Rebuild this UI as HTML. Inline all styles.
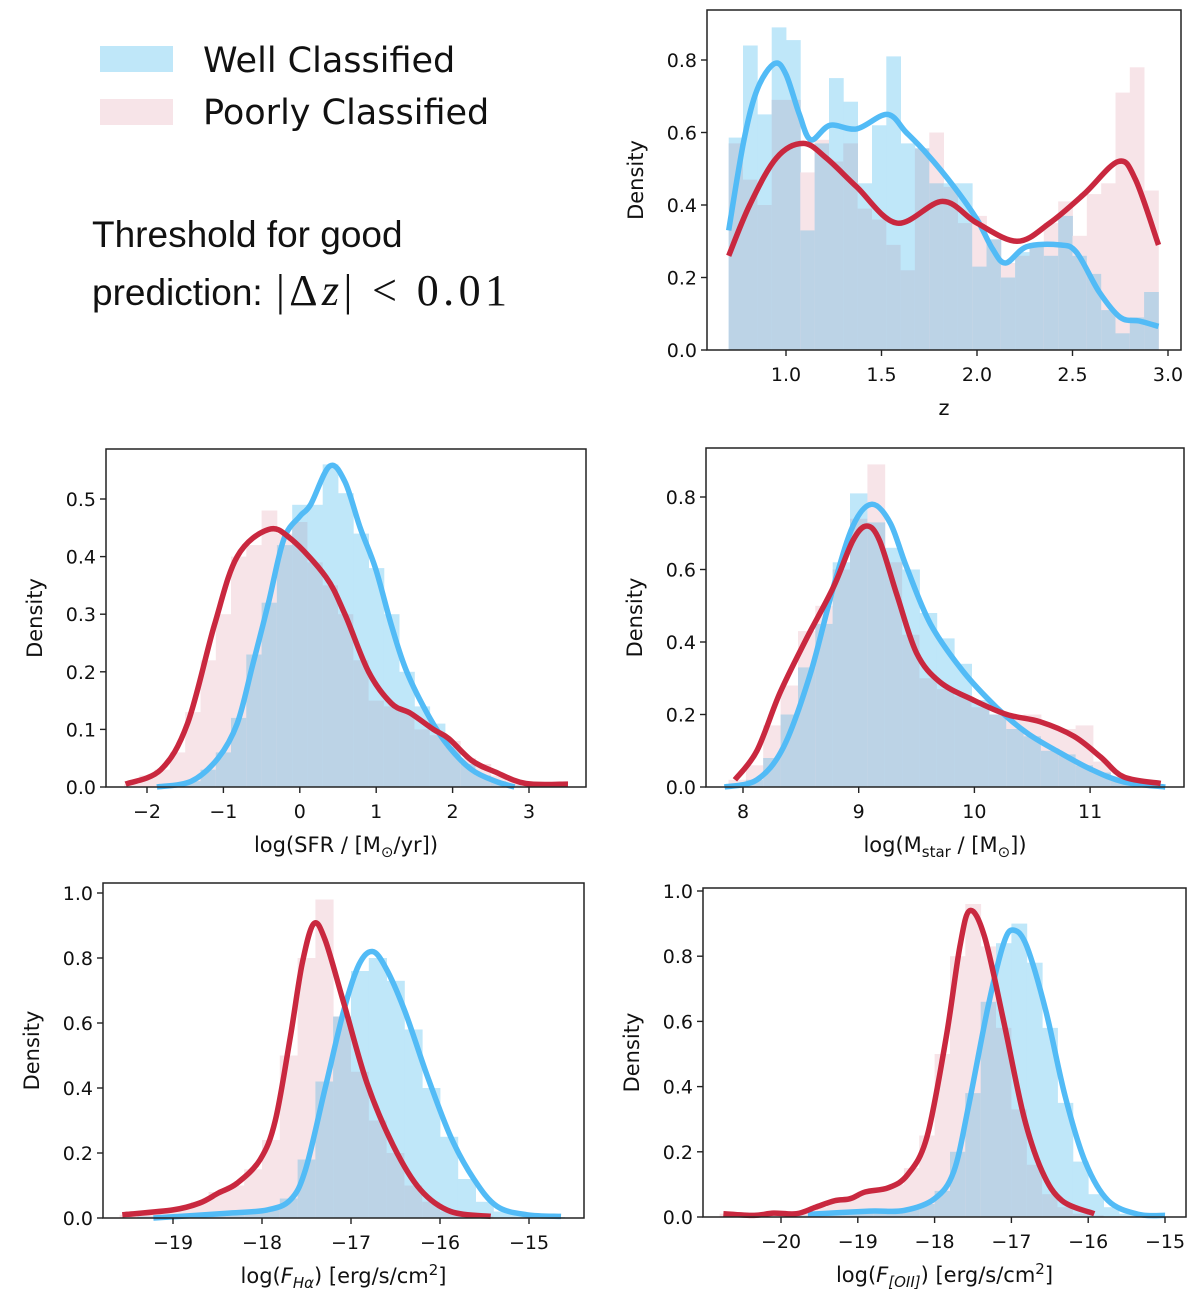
<!DOCTYPE html>
<html><head><meta charset="utf-8"><style>
html,body{margin:0;padding:0;background:#fff;}
svg{display:block;font-family:"DejaVu Sans","Liberation Sans",sans-serif;}
</style></head><body>
<svg id="fig" width="1200" height="1306" viewBox="0 0 1200 1306" xmlns="http://www.w3.org/2000/svg">
<g>
<rect x="100" y="46" width="73" height="26" fill="#bfe7f9"/>
<text x="203" y="72" font-size="35" fill="#111">Well Classified</text>
<rect x="100" y="99" width="73" height="26" fill="#f7e4e8"/>
<text x="203" y="124" font-size="35" fill="#111">Poorly Classified</text>
</g>
<g font-family="Liberation Sans, sans-serif" fill="#111">
<text x="92" y="247" font-size="37">Threshold for good</text>
<text x="92" y="305" font-size="37">prediction:</text>
<text x="276" y="305" font-family="Liberation Serif, serif" font-size="44" textLength="231" lengthAdjust="spacing">|Δ<tspan font-style="italic">z</tspan>|  &lt;  0.01</text>
</g>
<g id="panels"></g>
</svg>
<script>
// ---- z panel data ----
const zBinStart = 0.70, zBinWidth = 0.075;
const zBlueBins = [0.586,0.84,0.65,0.89,0.855,0.33,0.57,0.75,0.685,0.46,0.62,0.81,0.57,0.556,0.46,0.46,0.46,0.23,0.305,0.2,0.27,0.285,0.26,0.37,0.26,0.21,0.11,0.046,0.09,0.16];
const zRedBins  = [0.57,0.47,0.40,0.69,0.69,0.49,0.58,0.52,0.57,0.39,0.36,0.29,0.22,0.556,0.6,0.45,0.35,0.37,0.305,0.24,0.26,0.285,0.35,0.41,0.315,0.43,0.46,0.71,0.78,0.44];
const zBlueKdeX = [0.70,0.78,0.85,0.94,1.0,1.07,1.13,1.23,1.37,1.53,1.63,1.74,1.88,2.0,2.08,2.15,2.26,2.43,2.52,2.64,2.75,2.85,2.95];
const zBlueKdeY = [0.33,0.58,0.72,0.79,0.76,0.65,0.58,0.62,0.61,0.65,0.6,0.54,0.45,0.36,0.28,0.24,0.285,0.29,0.27,0.16,0.09,0.08,0.065];
const zRedKdeX = [0.70,0.81,0.95,1.09,1.21,1.37,1.58,1.82,2.0,2.21,2.38,2.56,2.74,2.83,2.95];
const zRedKdeY = [0.26,0.40,0.53,0.57,0.53,0.45,0.35,0.41,0.35,0.30,0.35,0.43,0.52,0.47,0.29];
const zXTicks = [1.0,1.5,2.0,2.5,3.0];
const zXTickLabels = ["1.0","1.5","2.0","2.5","3.0"];
const zYTicks = [0,0.2,0.4,0.6,0.8];
const zYTickLabels = ["0.0","0.2","0.4","0.6","0.8"];

// ---- SFR panel data ----
const sfrBinStart = -2.3, sfrBinWidth = 0.2;
const sfrRedBins  = [0.005,0.02,0.03,0.06,0.13,0.22,0.3,0.4,0.42,0.48,0.44,0.46,0.39,0.35,0.3,0.22,0.15,0.14,0.13,0.1,0.09,0.08,0.05,0.04,0.02,0.01,0.005,0.003,0.003];
const sfrBlueBins = [0,0,0,0.005,0.01,0.03,0.06,0.12,0.23,0.32,0.42,0.49,0.49,0.56,0.51,0.44,0.38,0.3,0.2,0.14,0.11,0.07,0.04,0.02,0.01,0.003,0,0,0];
const sfrBlueKdeX = [-1.87,-1.42,-1.07,-0.82,-0.62,-0.41,-0.21,0,0.14,0.39,0.59,0.79,0.99,1.2,1.4,1.7,1.95,2.25,2.56,2.81];
const sfrBlueKdeY = [0,0.01,0.05,0.11,0.21,0.32,0.43,0.47,0.49,0.557,0.53,0.45,0.38,0.28,0.2,0.12,0.07,0.03,0.01,0];
const sfrRedKdeX = [-2.28,-1.82,-1.47,-1.12,-0.82,-0.41,-0.11,0.34,0.59,0.9,1.2,1.45,1.75,1.95,2.25,2.56,2.96,3.51];
const sfrRedKdeY = [0.005,0.03,0.11,0.28,0.4,0.447,0.43,0.365,0.3,0.2,0.145,0.128,0.1,0.084,0.046,0.026,0.006,0.005];
const sfrXTicks = [-2,-1,0,1,2,3];
const sfrXTickLabels = ["\u22122","\u22121","0","1","2","3"];
const sfrYTicks = [0,0.1,0.2,0.3,0.4,0.5];
const sfrYTickLabels = ["0.0","0.1","0.2","0.3","0.4","0.5"];

// ---- Mstar panel data ----
const mBinStart = 7.875, mBinWidth = 0.15;
const mRedBins  = [0.02,0.06,0.17,0.28,0.43,0.5,0.6,0.74,0.89,0.62,0.42,0.3,0.27,0.25,0.22,0.2,0.19,0.2,0.17,0.16,0.17,0.07,0.03,0.01,0.005];
const mBlueBins = [0.005,0.02,0.08,0.2,0.33,0.45,0.62,0.81,0.73,0.66,0.6,0.48,0.41,0.34,0.24,0.2,0.16,0.14,0.1,0.09,0.06,0.04,0.02,0.01,0.005];
const mBlueKdeX = [7.84,8.12,8.35,8.58,8.78,8.95,9.11,9.27,9.41,9.62,9.9,10.19,10.45,10.71,11.0,11.29,11.65];
const mBlueKdeY = [0,0.02,0.11,0.31,0.55,0.72,0.78,0.73,0.61,0.45,0.32,0.22,0.15,0.1,0.05,0.014,0];
const mRedKdeX = [7.93,8.12,8.32,8.55,8.78,8.95,9.07,9.18,9.33,9.5,9.7,9.99,10.28,10.57,10.86,11.09,11.29,11.61];
const mRedKdeY = [0.02,0.1,0.26,0.41,0.55,0.68,0.72,0.68,0.53,0.37,0.29,0.24,0.2,0.18,0.14,0.083,0.028,0.01];
const mXTicks = [8,9,10,11];
const mXTickLabels = ["8","9","10","11"];
const mYTicks = [0,0.2,0.4,0.6,0.8];
const mYTickLabels = ["0.0","0.2","0.4","0.6","0.8"];

// ---- Halpha panel data ----
const haBinStart = -19.6, haBinWidth = 0.2;
const haRedBins  = [0.01,0.02,0.025,0.03,0.05,0.08,0.1,0.15,0.24,0.5,0.8,0.98,0.62,0.45,0.3,0.2,0.1,0.05,0.02,0.01,0.005,0,0,0,0];
const haBlueBins = [0,0.005,0.005,0.01,0.01,0.015,0.02,0.025,0.03,0.06,0.18,0.42,0.62,0.76,0.8,0.73,0.58,0.4,0.25,0.12,0.05,0.02,0.01,0.005,0.003];
const haBlueKdeX = [-19.22,-18.37,-17.94,-17.68,-17.51,-17.29,-17.08,-16.91,-16.76,-16.61,-16.4,-16.14,-15.88,-15.62,-15.36,-15.02,-14.64];
const haBlueKdeY = [0,0.015,0.025,0.056,0.15,0.4,0.64,0.78,0.82,0.77,0.64,0.435,0.25,0.12,0.036,0.01,0.005];
const haRedKdeX = [-19.57,-19.0,-18.7,-18.49,-18.28,-18.02,-17.85,-17.68,-17.55,-17.42,-17.29,-17.08,-16.82,-16.52,-16.22,-15.88,-15.43];
const haRedKdeY = [0.01,0.025,0.046,0.077,0.107,0.18,0.3,0.56,0.78,0.905,0.855,0.66,0.415,0.22,0.087,0.02,0.005];
const haXTicks = [-19,-18,-17,-16,-15];
const haXTickLabels = ["\u221219","\u221218","\u221217","\u221216","\u221215"];
const haYTicks = [0,0.2,0.4,0.6,0.8,1.0];
const haYTickLabels = ["0.0","0.2","0.4","0.6","0.8","1.0"];

// ---- OII panel data ----
const oBinStart = -20.8, oBinWidth = 0.2;
const oRedBins  = [0.01,0.005,0.005,0.012,0.01,0.015,0.03,0.05,0.055,0.075,0.09,0.1,0.15,0.25,0.5,0.8,0.96,0.83,0.58,0.33,0.16,0.07,0.03,0.01,0.005,0,0,0,0];
const oBlueBins = [0,0,0,0,0,0.005,0.008,0.01,0.012,0.015,0.018,0.02,0.025,0.04,0.08,0.2,0.38,0.66,0.84,0.9,0.78,0.58,0.35,0.17,0.07,0.03,0.01,0.005,0.003];
const oBlueKdeX = [-19.65,-18.85,-18.4,-18.0,-17.75,-17.55,-17.3,-17.1,-16.97,-16.8,-16.55,-16.3,-16.04,-15.74,-15.34,-15.0];
const oBlueKdeY = [0.008,0.018,0.02,0.056,0.14,0.35,0.65,0.84,0.88,0.83,0.63,0.37,0.17,0.05,0.008,0.005];
const oRedKdeX = [-20.75,-20.35,-20.1,-19.8,-19.55,-19.3,-19.1,-18.9,-18.6,-18.35,-18.1,-17.85,-17.67,-17.54,-17.35,-17.1,-16.84,-16.6,-16.34,-15.92];
const oRedKdeY = [0.01,0.005,0.012,0.01,0.03,0.05,0.056,0.077,0.09,0.13,0.245,0.55,0.83,0.94,0.86,0.6,0.31,0.14,0.05,0.01];
const oXTicks = [-20,-19,-18,-17,-16,-15];
const oXTickLabels = ["\u221220","\u221219","\u221218","\u221217","\u221216","\u221215"];
const oYTicks = [0,0.2,0.4,0.6,0.8,1.0];
const oYTickLabels = ["0.0","0.2","0.4","0.6","0.8","1.0"];

const NS = "http://www.w3.org/2000/svg";
const root = document.getElementById("panels");
function mk(tag, attrs, parent){
  const e = document.createElementNS(NS, tag);
  for (const k in attrs) e.setAttribute(k, attrs[k]);
  parent.appendChild(e);
  return e;
}
function smoothPath(pts){
  let d = "M" + pts[0][0].toFixed(1) + "," + pts[0][1].toFixed(1);
  for (let i = 0; i < pts.length - 1; i++){
    const p0 = pts[Math.max(i-1,0)], p1 = pts[i], p2 = pts[i+1], p3 = pts[Math.min(i+2, pts.length-1)];
    const c1x = p1[0] + (p2[0]-p0[0])/6, c1y = p1[1] + (p2[1]-p0[1])/6;
    const c2x = p2[0] - (p3[0]-p1[0])/6, c2y = p2[1] - (p3[1]-p1[1])/6;
    d += " C" + c1x.toFixed(1)+","+c1y.toFixed(1)+" "+c2x.toFixed(1)+","+c2y.toFixed(1)+" "+p2[0].toFixed(1)+","+p2[1].toFixed(1);
  }
  return d;
}
function drawPanel(cfg){
  const g = mk("g", {}, root);
  
  
  const X = v => cfg.x0 + (v - cfg.xv0) * cfg.xs;
  const Y = v => cfg.yb - v * cfg.ys;
  const bars = mk("g", {}, g);
  
  
  for (let i = 0; i < cfg.blue.length; i++){
    const a = X(cfg.binStart + i*cfg.binW), b = X(cfg.binStart + (i+1)*cfg.binW);
    const bv = cfg.blue[i], rv = cfg.red[i];
    const hi = Math.max(bv, rv), lo = Math.min(bv, rv);
    if (hi > 0){
      const r1 = mk("rect", {x:a.toFixed(1), y:Y(hi).toFixed(1), width:(b-a+0.4).toFixed(1), height:(Y(0)-Y(hi)).toFixed(1), fill: bv >= rv ? "#bfe7f9" : "#f7e4e8"}, bars);
      
      
    }
    if (lo > 0){
      const r2 = mk("rect", {x:a.toFixed(1), y:Y(lo).toFixed(1), width:(b-a+0.4).toFixed(1), height:(Y(0)-Y(lo)).toFixed(1), fill:"#bcd3e6"}, bars);
      
      
    }
  }
  const bp = mk("path", {d: smoothPath(cfg.bkx.map((v,i)=>[X(v), Y(cfg.bky[i])])), fill:"none", stroke:"#52bbf6", "stroke-width":5.5, "stroke-linejoin":"round"}, g);
  
  
  const rp = mk("path", {d: smoothPath(cfg.rkx.map((v,i)=>[X(v), Y(cfg.rky[i])])), fill:"none", stroke:"#c9283f", "stroke-width":5.5, "stroke-linejoin":"round"}, g);
  
  
  const fr = mk("rect", {x:cfg.L, y:cfg.T, width:cfg.R-cfg.L, height:cfg.yb-cfg.T, fill:"none", stroke:"#222", "stroke-width":1.5}, g);
  
  
  cfg.xt.forEach((v,i)=>{
    const x = X(v);
    mk("line", {x1:x, x2:x, y1:cfg.yb, y2:cfg.yb+6, stroke:"#222", "stroke-width":1.4}, g);
    const t = mk("text", {x:x, y:cfg.yb+31, "font-size":19, "text-anchor":"middle", fill:"#111"}, g);
    
    
    t.textContent = cfg.xtl[i];
  });
  cfg.yt.forEach((v,i)=>{
    const y = Y(v);
    mk("line", {x1:cfg.L-6, x2:cfg.L, y1:y, y2:y, stroke:"#222", "stroke-width":1.4}, g);
    const t = mk("text", {x:cfg.L-10, y:y+7, "font-size":19, "text-anchor":"end", fill:"#111"}, g);
    
    
    t.textContent = cfg.ytl[i];
  });
  const cy = (cfg.T + cfg.yb)/2, lx = cfg.L - 64;
  const yl = mk("text", {x:lx, y:cy, "font-size":21, "text-anchor":"middle", fill:"#111", transform:"rotate(-90 "+lx+" "+cy+")"}, g);
  
  
  yl.textContent = "Density";
  const xl = mk("text", {x:(cfg.L+cfg.R)/2, y:cfg.yb+65, "font-size":21, "text-anchor":"middle", fill:"#111"}, g);
  
  
  xl.innerHTML = cfg.xlabel;
}
drawPanel({name:"panel-redshift", L:707,R:1181,T:10,yb:350, x0:786,xv0:1.0,xs:191, ys:362.5,
  binStart:zBinStart,binW:zBinWidth, blue:zBlueBins, red:zRedBins, bkx:zBlueKdeX,bky:zBlueKdeY, rkx:zRedKdeX,rky:zRedKdeY,
  xt:zXTicks,xtl:zXTickLabels, yt:zYTicks,ytl:zYTickLabels, xlabel:"z"});
drawPanel({name:"panel-sfr", L:106,R:586,T:449,yb:787, x0:147,xv0:-2,xs:76.4, ys:576,
  binStart:sfrBinStart,binW:sfrBinWidth, blue:sfrBlueBins, red:sfrRedBins, bkx:sfrBlueKdeX,bky:sfrBlueKdeY, rkx:sfrRedKdeX,rky:sfrRedKdeY,
  xt:sfrXTicks,xtl:sfrXTickLabels, yt:sfrYTicks,ytl:sfrYTickLabels, xlabel:'log(SFR / [M<tspan font-size="15" dy="5">\u2299</tspan><tspan dy="-5">/yr])</tspan>'});
drawPanel({name:"panel-stellar-mass", L:706,R:1184,T:448,yb:787, x0:743,xv0:8,xs:115.7, ys:362.5,
  binStart:mBinStart,binW:mBinWidth, blue:mBlueBins, red:mRedBins, bkx:mBlueKdeX,bky:mBlueKdeY, rkx:mRedKdeX,rky:mRedKdeY,
  xt:mXTicks,xtl:mXTickLabels, yt:mYTicks,ytl:mYTickLabels, xlabel:'log(M<tspan font-size="15" dy="5">star</tspan><tspan dy="-5"> / [M</tspan><tspan font-size="15" dy="5">\u2299</tspan><tspan dy="-5">])</tspan>'});
drawPanel({name:"panel-halpha-flux", L:103,R:584,T:883,yb:1218, x0:440,xv0:-16,xs:89, ys:325,
  binStart:haBinStart,binW:haBinWidth, blue:haBlueBins, red:haRedBins, bkx:haBlueKdeX,bky:haBlueKdeY, rkx:haRedKdeX,rky:haRedKdeY,
  xt:haXTicks,xtl:haXTickLabels, yt:haYTicks,ytl:haYTickLabels, xlabel:'log(<tspan font-style="italic">F</tspan><tspan font-size="15" dy="5" font-style="italic">H\u03b1</tspan><tspan dy="-5">) [erg/s/cm</tspan><tspan font-size="15" dy="-8">2</tspan><tspan dy="8">]</tspan>'});
drawPanel({name:"panel-oii-flux", L:703,R:1186,T:888,yb:1217, x0:781,xv0:-20,xs:76.8, ys:326,
  binStart:oBinStart,binW:oBinWidth, blue:oBlueBins, red:oRedBins, bkx:oBlueKdeX,bky:oBlueKdeY, rkx:oRedKdeX,rky:oRedKdeY,
  xt:oXTicks,xtl:oXTickLabels, yt:oYTicks,ytl:oYTickLabels, xlabel:'log(<tspan font-style="italic">F</tspan><tspan font-size="15" dy="5" font-style="italic">[OII]</tspan><tspan dy="-5">) [erg/s/cm</tspan><tspan font-size="15" dy="-8">2</tspan><tspan dy="8">]</tspan>'});
</script>
</body></html>
